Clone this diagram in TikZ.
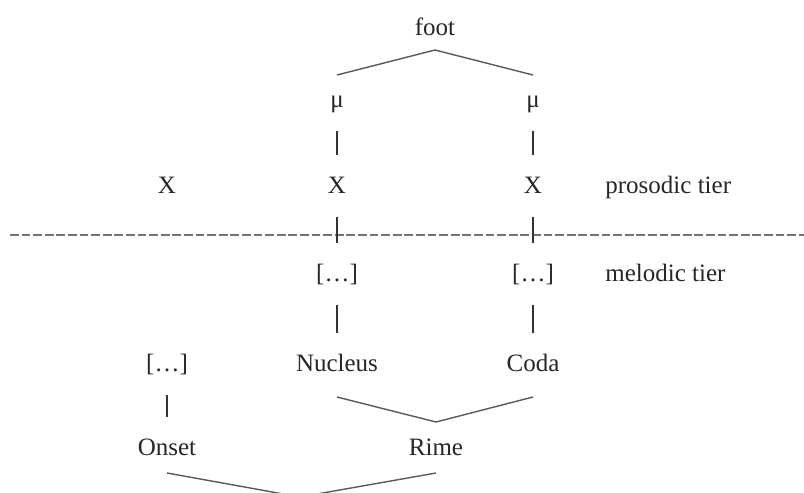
\documentclass[tikz,border=0pt]{standalone}
\usepackage{fontspec}
\setmainfont{Liberation Serif}

\begin{document}
\begin{tikzpicture}[x=0.5pt, y=-0.5pt,
    every node/.style={anchor=base, inner sep=0pt, text=black!85,
      font=\fontsize{12.5}{15}\selectfont},
    bar/.style={line width=1pt, black!80, shorten <=12pt, shorten >=19pt},
    branch/.style={line width=0.7pt, black!65}]
    \useasboundingbox (0,0) rectangle (804,493);
    % prosodic tier
    \node (foot) at (435,35) {foot};
    \node (mu1) at (337,107) {μ};
    \node (mu2) at (533,107) {μ};
    \node (x1) at (167,193) {X};
    \node (x2) at (337,193) {X};
    \node (x3) at (533,193) {X};
    \node at (605,193) [anchor=base west] {prosodic tier};
    \draw[dashed, dash pattern=on 4.4pt off 1.4pt, line width=0.75pt, black!55] (10,235) -- (804,235);
    % melodic tier
    \node (mel2) at (337,281) {[…]};
    \node (mel3) at (533,281) {[…]};
    \node at (605,281) [anchor=base west] {melodic tier};
    \node (mel1) at (167,371) {[…]};
    \node (nucleus) at (337,371) {Nucleus};
    \node (coda) at (533,371) {Coda};
    \node (onset) at (167,455) {Onset};
    \node (rime) at (436,455) {Rime};
    \coordinate (syl) at (300,497);
    % association lines
    \draw[bar] (mu1.base) -- (x2.base);
    \draw[bar] (mu2.base) -- (x3.base);
    \draw[bar] (x2.base) -- (mel2.base);
    \draw[bar] (x3.base) -- (mel3.base);
    \draw[bar] (mel2.base) -- (nucleus.base);
    \draw[bar] (mel3.base) -- (coda.base);
    \draw[bar] (mel1.base) -- (onset.base);
    % constituents
    \draw[branch] ([yshift=16pt]mu1.base) -- ([yshift=-7.5pt]foot.base) -- ([yshift=16pt]mu2.base);
    \draw[branch] ([yshift=-13pt]nucleus.base) -- ([yshift=16.5pt]rime.base) -- ([yshift=-13pt]coda.base);
    \draw[branch] ([yshift=-9pt]onset.base) -- (syl) -- ([yshift=-9pt]rime.base);
\end{tikzpicture}
\end{document}
